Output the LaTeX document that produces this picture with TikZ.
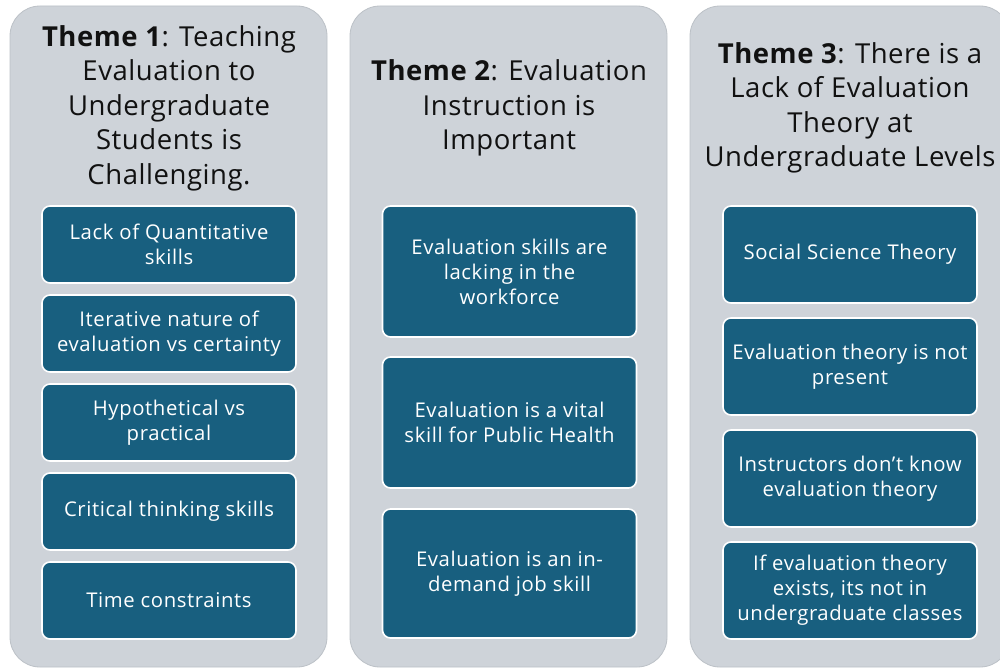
\documentclass[tikz,border=0pt]{standalone}
\usepackage{fontspec}
\setmainfont{Open Sans}
\newfontfamily\titlefont[LetterSpace=2]{Open Sans}
\newfontfamily\itemfont[LetterSpace=3]{Open Sans}
\definecolor{panelfill}{HTML}{CED3D9}
\definecolor{paneledge}{HTML}{BCC1C7}
\definecolor{itemblue}{HTML}{185F7F}
\definecolor{titleink}{HTML}{111111}
\begin{document}
\begin{tikzpicture}[x=1pt,y=-1pt,
  panel/.style={fill=panelfill,draw=paneledge,line width=0.8pt,rounded corners=30pt},
  title/.style={align=center,text=titleink,inner sep=0pt,font=\titlefont\fontsize{27.5}{34.5}\selectfont},
  item/.style={fill=itemblue,draw=white,line width=1.6pt,rounded corners=8pt,
    text=white,align=center,inner sep=0pt,minimum width=254pt,
    font=\itemfont\fontsize{20.3}{25}\selectfont}]
\useasboundingbox (0,0) rectangle (1000,669);
\clip (0,0) rectangle (1000,669);
\fill[white] (0,0) rectangle (1000,669);

% three theme panels
\draw[panel] (10,6) rectangle (327,667);
\draw[panel] (350,6) rectangle (667,667);
\draw[panel] (690,6) rectangle (1010,667);

% theme 1
\node[title] (t1) at (169,108) {\textbf{Theme 1}: Teaching\\Evaluation to\\Undergraduate\\Students is\\Challenging.};
\node[item,minimum height=77pt] (a1) at (169,244.5) {Lack of Quantitative\\skills};
\node[item,minimum height=77pt] (a2) at (169,333.5) {Iterative nature of\\evaluation vs certainty};
\node[item,minimum height=77pt] (a3) at (169,422.5) {Hypothetical vs\\practical};
\node[item,minimum height=77pt] (a4) at (169,511.5) {Critical thinking skills};
\node[item,minimum height=77pt] (a5) at (169,600.5) {Time constraints};

% theme 2
\node[title] (t2) at (509,108) {\textbf{Theme 2}: Evaluation\\Instruction is\\Important};
\node[item,minimum height=131pt] (b1) at (509.5,271.5) {Evaluation skills are\\lacking in the\\workforce};
\node[item,minimum height=131pt] (b2) at (509.5,422.5) {Evaluation is a vital\\skill for Public Health};
\node[item,minimum height=129pt] (b3) at (509.5,573.5) {Evaluation is an in-\\demand job skill};

% theme 3
\node[title] (t3) at (850,108) {\textbf{Theme 3}: There is a\\Lack of Evaluation\\Theory at\\Undergraduate Levels};
\node[item,minimum height=97pt] (c1) at (850,254.5) {Social Science Theory};
\node[item,minimum height=97pt] (c2) at (850,366.5) {Evaluation theory is not\\present};
\node[item,minimum height=97pt] (c3) at (850,478.5) {Instructors don’t know\\evaluation theory};
\node[item,minimum height=97pt] (c4) at (850,590.5) {If evaluation theory\\exists, its not in\\undergraduate classes};
\end{tikzpicture}
\end{document}
